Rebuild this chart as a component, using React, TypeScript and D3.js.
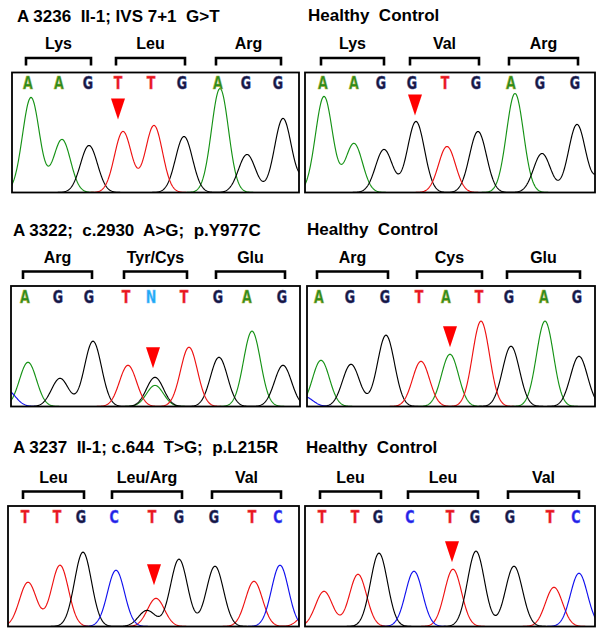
import React from "react";
import * as d3 from "d3";

// ---------- data ----------
const titles = [
  "A 3236  II-1; IVS 7+1  G>T",
  "Healthy  Control",
  "A 3322;  c.2930  A>G;  p.Y977C",
  "Healthy  Control",
  "A 3237  II-1; c.644  T>G;  p.L215R",
  "Healthy  Control",
];

const codonNames = [
  ["Lys", "Leu", "Arg"],
  ["Lys", "Val", "Arg"],
  ["Arg", "Tyr/Cys", "Glu"],
  ["Arg", "Cys", "Glu"],
  ["Leu", "Leu/Arg", "Val"],
  ["Leu", "Leu", "Val"],
];

const baseCalls = ["AAGTTGAGG", "AAGGTGAGG", "AGGTNTGAG", "AGGTATGAG", "TTGCTGGTC", "TTGCTGGTC"];

// base-call positions (scan units from the start of the window)
const callPositions = [
  [16, 47, 76, 106, 139, 170, 206, 234, 266],
  [18, 49, 76, 107, 140, 171, 206, 235, 270],
  [14, 47, 78, 115, 140, 173, 207, 236, 271],
  [12, 43, 78, 112, 139, 172, 202, 237, 270],
  [17, 49, 73, 106, 144, 171, 206, 244, 270],
  [17, 50, 73, 105, 145, 170, 205, 245, 271],
];

// peaks: channel letters, scan positions, signal heights
const peakChannels = [
  "AAGTTGAGGG",
  "AAGGTGAGGG",
  "AGGTGATGAGC",
  "AGGTATGAGC",
  "TTGCGTGGTCT",
  "TTGCTGGTC",
];
const peakPositions = [
  [19, 50, 77, 111, 142, 172, 208, 235, 271, 300],
  [19, 49, 79, 111, 142, 173, 210, 237, 272, 302],
  [17, 49, 82, 117, 144, 144, 178, 208, 241, 272, -4],
  [14, 44, 79, 114, 143, 174, 204, 238, 272, -3],
  [20, 52, 75, 108, 139, 148, 171, 207, 246, 272, 300],
  [19, 53, 74, 109, 148, 171, 209, 249, 274],
];
const peakHeights = [
  [95, 53, 47, 61, 67, 56, 104, 38, 74, 25],
  [96, 49, 43, 71, 46, 61, 99, 39, 68, 30],
  [44, 28, 65, 41, 29, 21, 59, 49, 75, 41, 16],
  [46, 42, 71, 45, 52, 85, 60, 85, 50, 10],
  [44, 61, 74, 56, 16, 28, 67, 60, 45, 61, 14],
  [35, 52, 73, 55, 57, 75, 60, 39, 53],
];

// mutation marker: scan position and signal level of its tip
const markerPositions = [106, 110, 142, 143, 146, 147];
const markerLevels = [73, 77, 38, 59, 41, 64];

// ---------- layout ----------
const W = 604;
const H = 637;
const boxes = [
  { l: 12, r: 299, t: 72.5, b: 192.5, ty: 22 },
  { l: 305, r: 595, t: 72.5, b: 192.5, ty: 21 },
  { l: 11, r: 300, t: 286, b: 406.5, ty: 236 },
  { l: 307, r: 595, t: 286, b: 406.5, ty: 235 },
  { l: 8, r: 299, t: 506, b: 626.5, ty: 453 },
  { l: 305, r: 595, t: 506, b: 626.5, ty: 453 },
];
const titleX = [17, 308, 13, 307, 13, 306];

const traceColor: Record<string, string> = {
  A: "#159215",
  G: "#000000",
  T: "#ee1111",
  C: "#1111ee",
};
const letterColor: Record<string, string> = {
  A: "#2a8a1e",
  G: "#16163c",
  T: "#e8141c",
  C: "#2020e0",
  N: "#20a8f4",
};
const letterStroke: Record<string, string> = {
  A: "#a8b030",
  G: "#404a90",
  T: "#f06060",
  C: "#6060ff",
  N: "#70c8ff",
};

const SIGMA = 8.5;
const sansBold = "'Liberation Sans', Arial, Helvetica, sans-serif";

function Panel({ i }: { i: number }) {
  const box = boxes[i];
  const width = box.r - box.l;
  const x = d3.scaleLinear().domain([0, width]).range([box.l, box.r]);
  const y = d3.scaleLinear().domain([0, 120]).range([box.b, box.t]);
  const chans = peakChannels[i].split("");
  const pos = peakPositions[i];
  const hts = peakHeights[i];
  const calls = baseCalls[i].split("");
  const cp = callPositions[i];

  const channelSet = Array.from(new Set(chans));
  const samples = d3.range(-10, width + 10.5, 0.5);
  const line = d3
    .line<[number, number]>()
    .x((d) => x(d[0]))
    .y((d) => y(d[1]));
  const traces = channelSet.map((c) => {
    const pts: [number, number][] = samples.map((s) => {
      let v = 0;
      chans.forEach((ch, k) => {
        if (ch === c) {
          const dx = s - pos[k];
          v += hts[k] * Math.exp(-(dx * dx) / (2 * SIGMA * SIGMA));
        }
      });
      return [s, v];
    });
    return { c, d: line(pts) as string };
  });

  const clipId = `clip${i}`;
  const brY = box.t - 14.5;
  const mx = x(markerPositions[i]);
  const my = y(markerLevels[i]);
  const tri = `M${mx - 7},${my - 21} L${mx + 7},${my - 21} L${mx},${my} Z`;

  return (
    <g>
      <defs>
        <clipPath id={clipId}>
          <rect x={box.l} y={box.t} width={width} height={box.b - box.t} />
        </clipPath>
      </defs>
      <text
        x={titleX[i]}
        y={box.ty}
        fontFamily={sansBold}
        fontWeight="bold"
        fontSize={17}
        style={{ whiteSpace: "pre" }}
        fill="#000"
      >
        {titles[i]}
      </text>
      {codonNames[i].map((name, k) => {
        const x0 = x(cp[k * 3]) - 2;
        const x1 = x(cp[k * 3 + 2]) + 3;
        return (
          <g key={k}>
            <path
              d={`M${x0},${brY + 7.5} L${x0},${brY} L${x1},${brY} L${x1},${brY + 7.5}`}
              fill="none"
              stroke="#000"
              strokeWidth={2.6}
            />
            <text
              x={(x0 + x1) / 2}
              y={box.t - 23.5}
              textAnchor="middle"
              fontFamily={sansBold}
              fontWeight="bold"
              fontSize={16}
              fill="#000"
            >
              {name}
            </text>
          </g>
        );
      })}
      <rect x={box.l} y={box.t} width={width} height={box.b - box.t} fill="#fff" />
      <g clipPath={`url(#${clipId})`}>
        {traces.map((t) => (
          <path key={t.c} d={t.d} fill="none" stroke={traceColor[t.c]} strokeWidth={1.15} />
        ))}
      </g>
      {calls.map((b, k) => (
        <text
          key={k}
          x={x(cp[k])}
          y={box.t + 17}
          textAnchor="middle"
          fontFamily="'DejaVu Sans', sans-serif"
          fontWeight="bold"
          fontSize={17.5}
          fill={letterColor[b]}
          stroke={letterStroke[b]}
          strokeWidth={0.6}
          transform={`translate(${x(cp[k])},0) scale(0.72,1) translate(${-x(cp[k])},0)`}
        >
          {b}
        </text>
      ))}
      <path d={tri} fill="#ff0000" />
      <rect
        x={box.l}
        y={box.t}
        width={width}
        height={box.b - box.t}
        fill="none"
        stroke="#000"
        strokeWidth={1.8}
      />
    </g>
  );
}

export default function App() {
  return (
    <svg
      width={W}
      height={H}
      viewBox={`0 0 ${W} ${H}`}
      style={{ position: "absolute", left: 0, top: 0, background: "#fff" }}
    >
      <rect x={0} y={0} width={W} height={H} fill="#fff" />
      {boxes.map((_, i) => (
        <Panel key={i} i={i} />
      ))}
    </svg>
  );
}
